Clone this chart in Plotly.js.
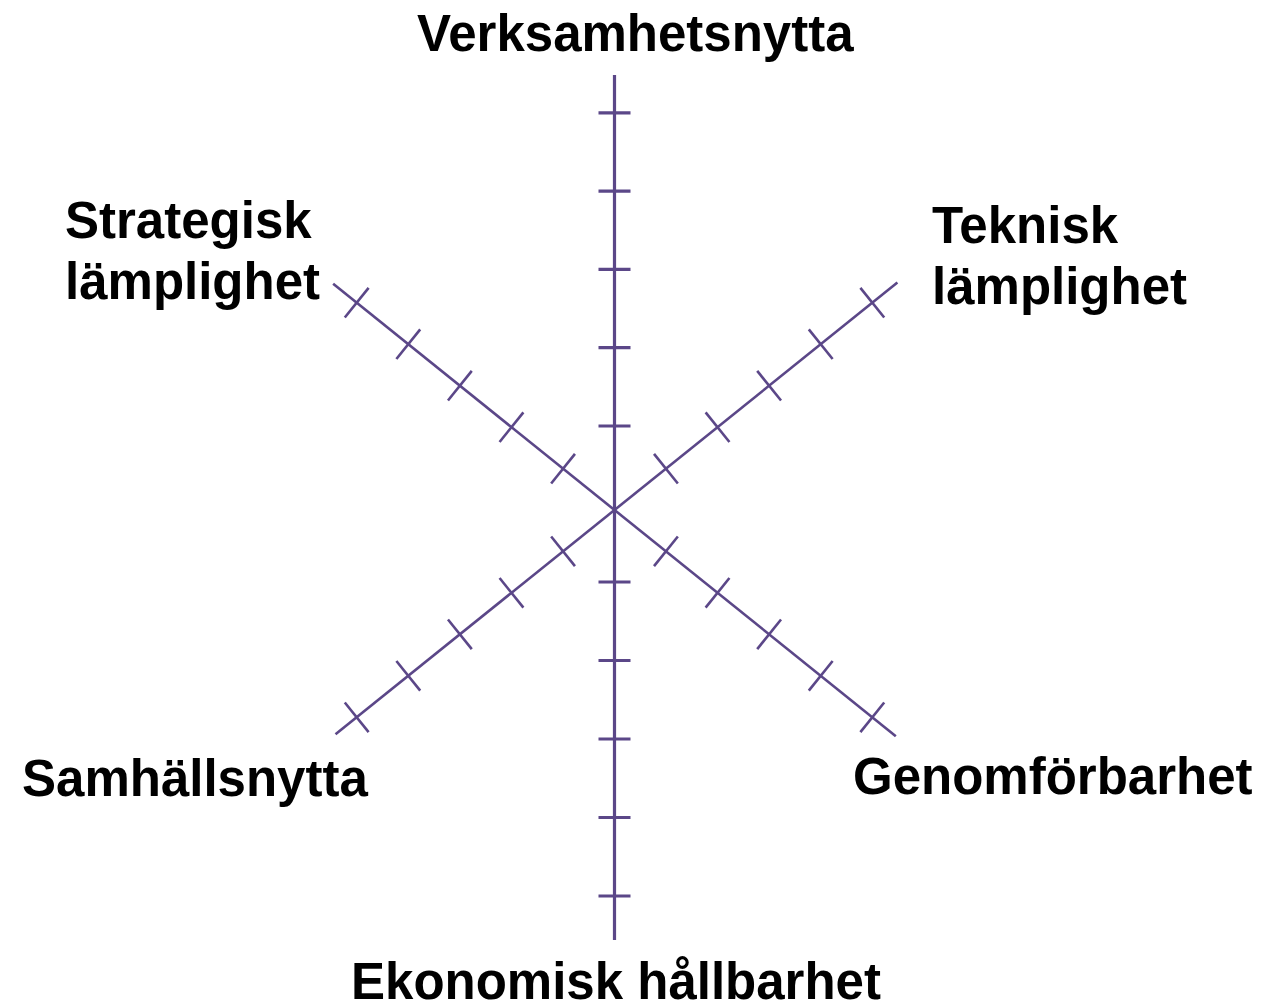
<!DOCTYPE html>
<html>
<head>
<meta charset="utf-8">
<script src="https://cdn.plot.ly/plotly-3.0.1.min.js"></script>
<style>
  html, body { margin: 0; padding: 0; background: #fff; }
  #chart { width: 1281px; height: 1004px; }
</style>
</head>
<body>
<div id="chart"></div>
<script>
// Axis names, clockwise from the top
const dimensions = ['Verksamhetsnytta', 'Teknisk lämplighet', 'Genomförbarhet',
  'Ekonomisk hållbarhet', 'Samhällsnytta', 'Strategisk lämplighet'];
// how each name is broken into lines
const labelLines = [['Verksamhetsnytta'], ['Teknisk', 'lämplighet'], ['Genomförbarhet'],
  ['Ekonomisk hållbarhet'], ['Samhällsnytta'], ['Strategisk', 'lämplighet']];
// direction of each axis (degrees, counter-clockwise from east)
const angles = [90, 38.8, -38.8, -90, -141.2, 141.2];
// scale steps marked on every axis
const tickValues = [1, 2, 3, 4, 5];

// drawing geometry (pixels), center of the star
const W = 1281, H = 1004;
const cx = 614.5, cy = 510;
const axisStyle = [
  { first: 84, step: 78.3, end: 435, width: 3.2, tick: 16 },
  { first: 66, step: 66.2, end: 363, width: 2.6, tick: 19 },
  { first: 66, step: 66.2, end: 361, width: 2.6, tick: 19 },
  { first: 72, step: 78.5, end: 430, width: 3.2, tick: 16 },
  { first: 66, step: 66.2, end: 358, width: 2.6, tick: 19 },
  { first: 66, step: 66.2, end: 361, width: 2.6, tick: 19 }
];
// label placement: pixel x, baseline of first line, alignment
const labelPos = [
  { x: 635, y: 50, align: 'center' },
  { x: 931, y: 242, align: 'left' },
  { x: 852, y: 793, align: 'left' },
  { x: 616, y: 998, align: 'center' },
  { x: 21, y: 795, align: 'left' },
  { x: 64, y: 237, align: 'left' }
];
const lineGap = 61;
const axisColor = '#5b4788';

const traces = [];
dimensions.forEach((name, i) => {
  const a = angles[i] * Math.PI / 180;
  const ux = Math.cos(a), uy = Math.sin(a);
  const st = axisStyle[i];
  traces.push({
    x: [0, ux * st.end], y: [0, uy * st.end],
    mode: 'lines', line: { color: axisColor, width: st.width },
    hoverinfo: 'skip', name: name
  });
  const tx = [], ty = [];
  tickValues.forEach(v => {
    const d = st.first + (v - 1) * st.step;
    const px = ux * d, py = uy * d;
    tx.push(px - uy * st.tick, px + uy * st.tick, null);
    ty.push(py + ux * st.tick, py - ux * st.tick, null);
  });
  traces.push({
    x: tx, y: ty, mode: 'lines', line: { color: axisColor, width: st.width },
    hoverinfo: 'skip', name: name + ' ticks'
  });
});

const annotations = [];
labelLines.forEach((lines, i) => {
  const p = labelPos[i];
  lines.forEach((txt, j) => {
    annotations.push({
      x: p.x - cx, y: cy - (p.y + j * lineGap),
      xref: 'x', yref: 'y', text: '<b>' + txt + '</b>', showarrow: false,
      xanchor: p.align, yanchor: 'bottom', yshift: -13, borderpad: 0,
      font: { family: 'Liberation Sans, Arial, sans-serif', size: 51, color: '#000' }
    });
  });
});

const layout = {
  width: W, height: H,
  margin: { l: 0, r: 0, t: 0, b: 0 },
  paper_bgcolor: '#fff', plot_bgcolor: '#fff',
  showlegend: false,
  xaxis: { range: [-cx, W - cx], visible: false, fixedrange: true },
  yaxis: { range: [cy - H, cy], visible: false, fixedrange: true },
  annotations: annotations
};

Plotly.newPlot('chart', traces, layout, { displayModeBar: false, staticPlot: true });
</script>
</body>
</html>
